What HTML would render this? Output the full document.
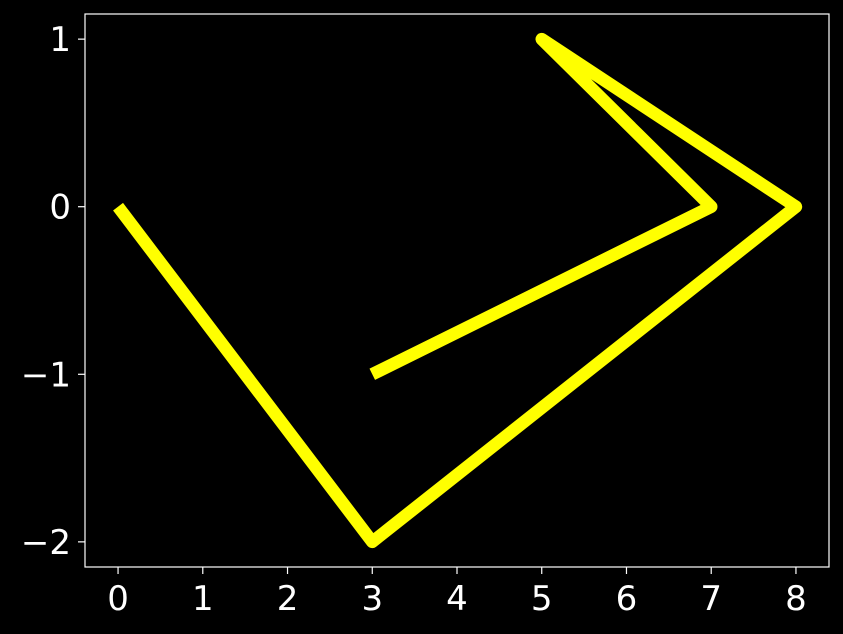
<!DOCTYPE html>
<html><head><meta charset="utf-8">
<style>
html,body{margin:0;padding:0;background:#000;}
svg{display:block;}
text{font-family:"DejaVu Sans","Liberation Sans",sans-serif;fill:#fff;}
</style></head>
<body>
<svg id="chart" width="843" height="634">
<rect x="0" y="0" width="843" height="634" fill="#000"/>
<g id="plot"></g>
</svg>
<script>
const xValues = [0, 3, 8, 5, 7, 3];
const yValues = [0, -2, 0, 1, 0, -1];
const xTicks = [0, 1, 2, 3, 4, 5, 6, 7, 8];
const yTicks = [1, 0, -1, -2];

const L = 85, R = 829, T = 14, B = 567;
const xMin = -0.39, xMax = 8.39, yMin = -2.15, yMax = 1.15;
function sx(v){ return L + (v - xMin) / (xMax - xMin) * (R - L); }
function sy(v){ return B - (v - yMin) / (yMax - yMin) * (B - T); }

const NS = "http://www.w3.org/2000/svg";
const g = document.getElementById('plot');
function mk(tag, attrs){
  const e = document.createElementNS(NS, tag);
  for (const k in attrs) e.setAttribute(k, attrs[k]);
  g.appendChild(e);
  return e;
}

const frame = mk('rect', {x:L, y:T, width:R-L, height:B-T, fill:'none', stroke:'#fff', 'stroke-width':1.2});



xTicks.forEach(t => {
  const x = sx(t);
  const tk = mk('line', {x1:x, x2:x, y1:B, y2:B+7, stroke:'#fff', 'stroke-width':1.2});
  
  
  const lb = mk('text', {x:x, y:B+43, 'font-size':34, 'text-anchor':'middle'});
  lb.textContent = String(t);
  
  
});

yTicks.forEach(t => {
  const y = sy(t);
  const tk = mk('line', {x1:L-7, x2:L, y1:y, y2:y, stroke:'#fff', 'stroke-width':1.2});
  
  
  const lb = mk('text', {x:L-14, y:y+12, 'font-size':34, 'text-anchor':'end'});
  lb.textContent = t < 0 ? '\u2212' + Math.abs(t) : String(t);
  
  
});

const pts = xValues.map((v, i) => sx(v) + ',' + sy(yValues[i])).join(' ');
const line = mk('polyline', {points:pts, fill:'none', stroke:'#ffff00', 'stroke-width':12.5, 'stroke-linejoin':'round', 'stroke-linecap':'butt'});


</script>
</body></html>
